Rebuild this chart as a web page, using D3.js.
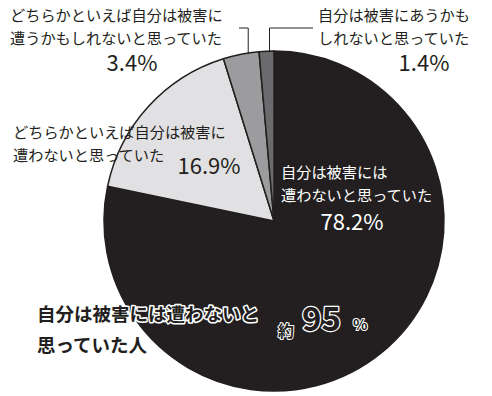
<!DOCTYPE html>
<html>
<head>
<meta charset="utf-8">
<script src="https://cdn.jsdelivr.net/npm/d3@7"></script>
<style>
  body { margin: 0; background: #fff; }
  svg text { font-family: "Noto Sans CJK JP", "Noto Sans", sans-serif; }
</style>
</head>
<body>
<div class="chart"></div>
<script>
var width = 492,
    height = 396;

// slices, clockwise from 12 o'clock
var categories = [
  "自分は被害には遭わないと思っていた",
  "どちらかといえば自分は被害に遭わないと思っていた",
  "どちらかといえば自分は被害に遭うかもしれないと思っていた",
  "自分は被害にあうかもしれないと思っていた"
];
var values = [78.2, 16.9, 3.4, 1.4];
var colors = ["#231f20", "#e1e1e3", "#9c9c9e", "#6b6b6d"];
var labelLines = [
  ["自分は被害には", "遭わないと思っていた"],
  ["どちらかといえば自分は被害に", "遭わないと思っていた"],
  ["どちらかといえば自分は被害に", "遭うかもしれないと思っていた"],
  ["自分は被害にあうかも", "しれないと思っていた"]
];
var pctLabels = values.map(function(v){ return v.toFixed(1) + "%"; });
var totalLines = ["自分は被害には遭わないと", "思っていた人"];
var totalValue = 95;

var cx = 274, cy = 221, radius = 170;

var svg = d3.select(".chart").append("svg")
    .attr("width", width)
    .attr("height", height);

var pie = d3.pie().sort(null).value(function(d){ return d; });
var arc = d3.arc().innerRadius(0).outerRadius(radius);
var arcs = pie(values);

var g = svg.append("g").attr("transform", "translate(" + cx + "," + cy + ")");

g.selectAll("path")
  .data(arcs)
  .enter().append("path")
    .attr("d", arc)
    .attr("fill", function(d, i){ return colors[i]; })
    .attr("stroke", "#231f20")
    .attr("stroke-width", 1.5)
    .attr("stroke-linejoin", "round");

// label blocks
var layout = [
  {x: 281, y: 178, fill: "#fff", px: 352, py: 230},
  {x: 13, y: 138, fill: "#231f20", px: 209, py: 174},
  {x: 10, y: 21, fill: "#231f20", px: 132, py: 71},
  {x: 318, y: 21, fill: "#231f20", px: 424, py: 71}
];

var fs = 15.2, lineH = 23;
layout.forEach(function(l, i){
  var t = svg.append("text")
    .attr("x", l.x).attr("y", l.y)
    .attr("fill", l.fill)
    .attr("font-size", fs);
  labelLines[i].forEach(function(s, k){
    t.append("tspan").attr("x", l.x).attr("dy", k === 0 ? 0 : lineH).text(s);
  });
  svg.append("text")
    .attr("x", l.px).attr("y", l.py)
    .attr("text-anchor", "middle")
    .attr("fill", l.fill)
    .attr("font-size", 22)
    .text(pctLabels[i]);
});

// leader lines for the two thin slices
var leaderY = 28;
[{i: 2, to: 239}, {i: 3, to: 313}].forEach(function(o){
  var a = arcs[o.i];
  var ang = a.startAngle + (a.endAngle - a.startAngle) * 0.7;
  var x0 = cx + radius * Math.sin(ang),
      y0 = cy - radius * Math.cos(ang);
  svg.append("path")
    .attr("d", "M" + x0 + "," + (y0 + 1) + "V" + leaderY + "H" + o.to)
    .attr("fill", "none")
    .attr("stroke", "#231f20")
    .attr("stroke-width", 1);
});

// total annotation (outlined text)
var tt = svg.append("text")
  .attr("x", 37).attr("y", 321)
  .attr("font-size", 18.5)
  .attr("font-weight", "bold")
  .attr("fill", "#231f20")
  .attr("stroke", "#fff")
  .attr("stroke-width", 3)
  .attr("paint-order", "stroke")
  .attr("stroke-linejoin", "round");
totalLines.forEach(function(s, k){
  tt.append("tspan").attr("x", 37).attr("dy", k === 0 ? 0 : 31).text(s);
});

var big = svg.append("g")
  .attr("fill", "#231f20")
  .attr("stroke", "#fff")
  .attr("paint-order", "stroke")
  .attr("stroke-linejoin", "round")
  .attr("font-weight", "bold");
big.append("text").attr("x", 278).attr("y", 337).attr("font-size", 16)
  .attr("stroke-width", 2).text("約");
big.append("text").attr("x", 302).attr("y", 331).attr("font-size", 33)
  .attr("stroke-width", 2.6).text(totalValue);
big.append("text").attr("x", 353).attr("y", 330).attr("font-size", 15)
  .attr("stroke-width", 2).text("%");
</script>
</body>
</html>
